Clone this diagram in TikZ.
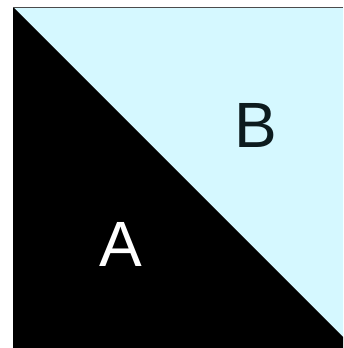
\documentclass[tikz,border=0pt]{standalone}
\usepackage{fontspec}
\setmainfont{Liberation Sans}
\definecolor{paleCyan}{HTML}{D5F8FF}
\definecolor{darkInk}{HTML}{0D1B1E}
\tikzset{
    region/.style={font=\fontsize{64}{64}\selectfont, inner sep=0pt},
}
\begin{document}
\begin{tikzpicture}[x=1pt, y=-1pt]
    \useasboundingbox (0,0) rectangle (343,348);

    % upper triangle (B)
    \fill[paleCyan] (13,7) -- (343,7) -- (343,337) -- cycle;
    % lower part (A)
    \fill[black] (13,7) -- (343,337) -- (343,348) -- (13,348) -- cycle;
    % top edge
    \draw[black!70, line width=0.8pt] (13,7.5) -- (343,7.5);

    \node[region, text=white] (labelA) at (121,244) {A};
    \node[region, text=darkInk] (labelB) at (256,125) {B};
\end{tikzpicture}
\end{document}
